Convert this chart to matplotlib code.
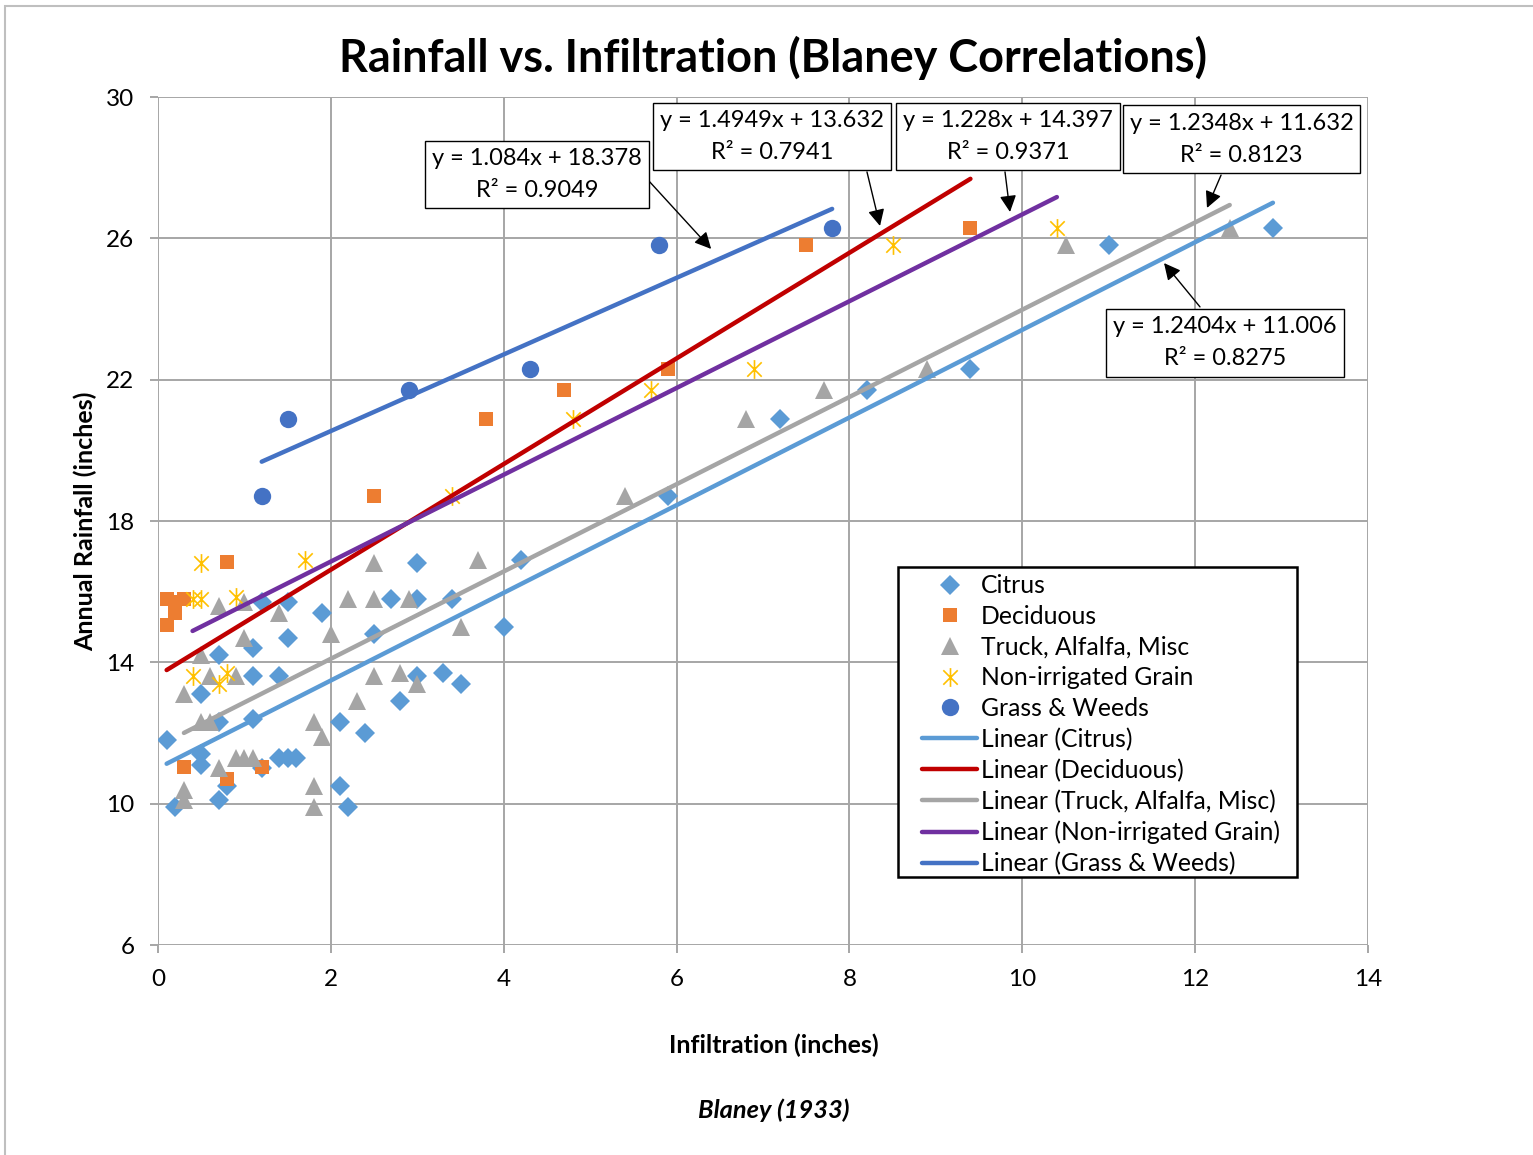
import matplotlib.pyplot as plt
from matplotlib.path import Path
from matplotlib.patches import Rectangle
import numpy as np

plt.rcParams['font.family'] = ['Lato', 'DejaVu Sans']

# Blaney (1933) - infiltration (x) vs annual rainfall (y), inches
citrus_x = [0.1, 0.2, 0.5, 0.5, 0.5, 0.7, 0.7, 0.7, 0.8, 1.1, 1.1, 1.1, 1.2, 1.2, 1.4, 1.4,
            1.5, 1.5, 1.5, 1.6, 1.9, 2.1, 2.1, 2.2, 2.4, 2.5, 2.7, 2.8, 3.0, 3.0, 3.0, 3.3,
            3.4, 3.5, 4.0, 4.2, 5.9, 7.2, 8.2, 9.4, 11.0, 12.9]
citrus_y = [11.8, 9.9, 13.1, 11.4, 11.1, 14.2, 12.3, 10.1, 10.5, 14.4, 13.6, 12.4, 11.0, 15.7, 13.6, 11.3,
            11.3, 15.7, 14.7, 11.3, 15.4, 12.3, 10.5, 9.9, 12.0, 14.8, 15.8, 12.9, 16.8, 15.8, 13.6, 13.7,
            15.8, 13.4, 15.0, 16.9, 18.7, 20.9, 21.7, 22.3, 25.8, 26.3]

decid_x = [0.1, 0.2, 0.3, 0.1, 0.2, 0.8, 0.3, 0.8, 1.2, 2.5, 3.8, 4.7, 5.9, 7.5, 9.4]
decid_y = [15.8, 15.4, 15.8, 15.05, 15.7, 16.85, 11.05, 10.7, 11.05, 18.7, 20.9, 21.7, 22.3, 25.8, 26.3]

truck_x = [0.3, 0.3, 0.3, 0.5, 0.6, 0.6, 0.5, 0.7, 0.7, 0.9, 0.9, 1.0, 1.1, 1.0, 1.0, 1.4,
           1.8, 1.9, 1.8, 1.8, 2.0, 2.2, 2.3, 2.5, 2.5, 2.5, 2.8, 2.9, 3.0, 3.5, 3.7,
           5.4, 6.8, 7.7, 8.9, 10.5, 12.4]
truck_y = [13.1, 10.4, 10.1, 14.2, 13.6, 12.3, 12.3, 15.6, 11.0, 13.6, 11.3, 11.3, 11.3, 15.7, 14.7, 15.4,
           12.3, 11.9, 10.5, 9.9, 14.8, 15.8, 12.9, 15.8, 16.8, 13.6, 13.7, 15.8, 13.4, 15.0, 16.9,
           18.7, 20.9, 21.7, 22.3, 25.8, 26.3]

grain_x = [0.5, 1.7, 0.4, 0.5, 0.9, 0.4, 0.8, 0.7, 3.4, 4.8, 5.7, 6.9, 8.5, 10.4]
grain_y = [16.8, 16.9, 15.8, 15.8, 15.85, 13.6, 13.7, 13.4, 18.7, 20.9, 21.7, 22.3, 25.8, 26.3]

grass_x = [1.2, 1.5, 2.9, 4.3, 5.8, 7.8]
grass_y = [18.7, 20.9, 21.7, 22.3, 25.8, 26.3]

# Excel trendline coefficients as printed on the chart
slopes = [1.2404, 1.4949, 1.2348, 1.228, 1.084]
intercepts = [11.006, 13.632, 11.632, 14.397, 18.378]
r2 = ['0.8275', '0.7941', '0.8123', '0.9371', '0.9049']

names = ['Citrus', 'Deciduous', 'Truck, Alfalfa, Misc', 'Non-irrigated Grain', 'Grass & Weeds']
colors = ['#5B9BD5', '#ED7D31', '#A5A5A5', '#FFC000', '#4472C4']
line_colors = ['#5B9BD5', '#C00000', '#A5A5A5', '#7030A0', '#4472C4']

# asterisk marker: X plus vertical stroke
star = Path([(-1, -1), (1, 1), (-1, 1), (1, -1), (0, -1.3), (0, 1.3)],
            [Path.MOVETO, Path.LINETO, Path.MOVETO, Path.LINETO, Path.MOVETO, Path.LINETO])

fig = plt.figure(figsize=(15.33, 11.55), dpi=100)
ax = fig.add_axes([158 / 1533, 1 - 945 / 1155, 1210 / 1533, 848 / 1155])

xs = [citrus_x, decid_x, truck_x, grain_x, grass_x]
ys = [citrus_y, decid_y, truck_y, grain_y, grass_y]

ax.plot(citrus_x, citrus_y, 'D', color=colors[0], ms=10, mew=0, label=names[0], zorder=3)
ax.plot(decid_x, decid_y, 's', color=colors[1], ms=10, mew=0, label=names[1], zorder=3)
ax.plot(truck_x, truck_y, '^', color=colors[2], ms=13.5, mew=0, label=names[2], zorder=3)
ax.plot(grain_x, grain_y, linestyle='none', marker=star, color=colors[3], ms=13.5, mew=1.2,
        label=names[3], zorder=3)
ax.plot(grass_x, grass_y, 'o', color=colors[4], ms=12.5, mew=0, label=names[4], zorder=3)

for i in range(5):
    tx = np.array([min(xs[i]), max(xs[i])])
    ax.plot(tx, slopes[i] * tx + intercepts[i], color=line_colors[i], lw=3.2,
            solid_capstyle='round', label='Linear (' + names[i] + ')', zorder=4)

ax.set_xlim(0, 14)
ax.set_ylim(6, 30)
ax.set_xticks(range(0, 15, 2))
ax.set_yticks(range(6, 31, 4))
ax.grid(True, color='#A6A6A6', lw=1.4)
ax.set_axisbelow(True)
for s in ax.spines.values():
    s.set_visible(False)
ax.tick_params(length=6, width=1.4, color='#A6A6A6', labelsize=17.5, pad=11)

# equation labels with arrows: box centre, arrow tail, arrow head (data coords)
box_pos = [(12.345, 23.04), (7.104, 28.88), (12.536, 28.81), (9.835, 28.88), (4.385, 27.81)]
tails = [(12.056, 24.06), (8.203, 27.88), (12.30, 27.79), (9.80, 27.88), (5.67, 27.65)]
heads = [(11.64, 25.30), (8.354, 26.35), (12.137, 26.86), (9.858, 26.745), (6.40, 25.70)]
for i in range(5):
    txt = 'y = {}x + {}\nR² = {}'.format(slopes[i], intercepts[i], r2[i])
    ax.text(box_pos[i][0], box_pos[i][1], txt, ha='center', va='center', fontsize=17,
            linespacing=1.65, zorder=6,
            bbox=dict(boxstyle='square,pad=0.3', fc='white', ec='black', lw=1))
    ax.annotate('', xy=heads[i], xytext=tails[i], zorder=5,
                arrowprops=dict(arrowstyle='-|>', color='black', lw=1, mutation_scale=25,
                                shrinkA=0, shrinkB=0))

# legend box drawn separately (wider side padding than matplotlib gives)
ax.add_patch(Rectangle(((898 - 158) / 1210, 1 - (877 - 97) / 848), 399 / 1210, 310 / 848,
                       transform=ax.transAxes, fc='white', ec='black', lw=1.8,
                       clip_on=False, zorder=7))
leg = ax.legend(loc='upper left', bbox_to_anchor=((915 - 158) / 1210, 1 - (567 - 97) / 848),
                borderaxespad=0, fontsize=17.8, frameon=False,
                handlelength=2.2, handletextpad=0.15, labelspacing=0.31, borderpad=0.3)
leg.set_zorder(8)

fig.text(773 / 1533, 1 - 58 / 1155, 'Rainfall vs. Infiltration (Blaney Correlations)',
         ha='center', va='center', fontsize=32.4, fontweight='bold')
fig.text(774 / 1533, 1 - 1045 / 1155, 'Infiltration (inches)', ha='center', va='center',
         fontsize=18, fontweight='bold')
fig.text(85 / 1533, 1 - 521 / 1155, 'Annual Rainfall (inches)', ha='center', va='center',
         fontsize=18, fontweight='bold', rotation=90)
fig.text(774 / 1533, 1 - 1110 / 1155, 'Blaney (1933)', ha='center', va='center',
         fontsize=18.3, fontweight='bold', style='italic')

fig.add_artist(Rectangle((5 / 1533, -0.1), 1.2, 1.1 - 6 / 1155, transform=fig.transFigure,
                         fill=False, ec='#BFBFBF', lw=1.5))

fig.savefig('out.png', dpi=100)
